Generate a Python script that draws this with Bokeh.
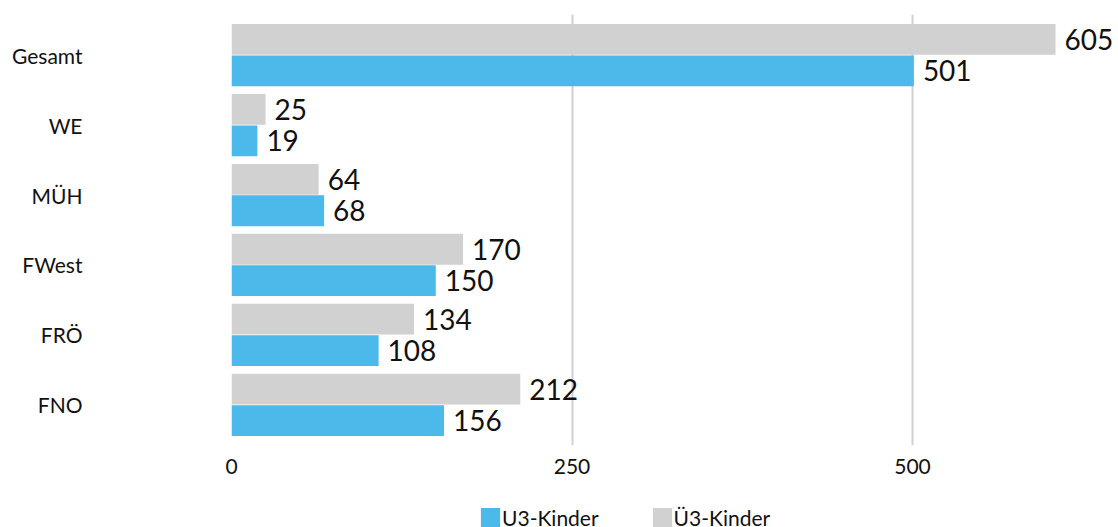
from bokeh.plotting import figure
from bokeh.layouts import column
from bokeh.models import (ColumnDataSource, FactorRange, Range1d, FixedTicker,
                          LabelSet, Legend, LegendItem)
from bokeh.core.properties import value
from bokeh.transform import dodge
from bokeh.embed import file_html
from bokeh.resources import INLINE

categories = ["Gesamt", "WE", "MÜH", "FWest", "FRÖ", "FNO"]
u3_kinder = [501, 19, 68, 150, 108, 156]
ue3_kinder = [605, 25, 64, 170, 134, 212]
x_ticks = [0, 250, 500]
series_names = ["U3-Kinder", "Ü3-Kinder"]

BLUE = "#4bb9ea"
GRAY = "#d0d1d0"
FONT = "Lato"
TXT = "#111111"

src = ColumnDataSource(data=dict(
    cat=categories,
    u3=u3_kinder,
    ue3=ue3_kinder,
    u3_txt=[str(v) for v in u3_kinder],
    ue3_txt=[str(v) for v in ue3_kinder],
))

p = figure(
    width=1118, height=483,
    y_range=FactorRange(factors=list(reversed(categories)),
                        range_padding=0.08, range_padding_units="absolute"),
    x_range=Range1d(0, 650.5),
    output_backend="svg", toolbar_location=None,
    min_border_left=231, min_border_right=1, min_border_top=14,
    min_border_bottom=38,
)
p.outline_line_color = None
p.background_fill_color = "white"
p.border_fill_color = "white"

r_ue3 = p.hbar(y=dodge("cat", 0.225, range=p.y_range), right="ue3", left=0,
               height=0.44, source=src, fill_color=GRAY, line_color=None)
r_u3 = p.hbar(y=dodge("cat", -0.225, range=p.y_range), right="u3", left=0,
              height=0.44, source=src, fill_color=BLUE, line_color=None)

for col, txt, off in (("ue3", "ue3_txt", 0.225), ("u3", "u3_txt", -0.225)):
    lbl = LabelSet(x=col, y=dodge("cat", off, range=p.y_range), text=txt,
                   source=src, x_offset=9, y_offset=0,
                   text_font=value(FONT), text_font_size="28px",
                   text_color=TXT,
                   text_baseline="middle", text_align="left")
    p.add_layout(lbl)

# axes
p.xaxis.ticker = FixedTicker(ticks=x_ticks)
p.xaxis.axis_line_color = None
p.xaxis.major_tick_line_color = None
p.xaxis.minor_tick_line_color = None
p.xaxis.major_tick_out = 0
p.xaxis.major_tick_in = 0
p.xaxis.major_label_standoff = 13
p.xaxis.major_label_text_font = FONT
p.xaxis.major_label_text_font_size = "21px"
p.xaxis.major_label_text_color = TXT

p.yaxis.axis_line_color = None
p.yaxis.major_tick_line_color = None
p.yaxis.major_tick_out = 0
p.yaxis.major_tick_in = 0
p.yaxis.major_label_standoff = 149
p.yaxis.major_label_text_font = FONT
p.yaxis.major_label_text_font_size = "21px"
p.yaxis.major_label_text_color = TXT

p.xgrid.grid_line_color = "#d0d0d0"
p.xgrid.grid_line_width = 2
p.ygrid.grid_line_color = None

# legend strip below the chart (its frame is aligned with the chart's frame)
lf = figure(width=1118, height=44, output_backend="svg", toolbar_location=None,
            x_axis_location=None, y_axis_location=None,
            min_border_left=0, min_border_right=0, min_border_top=0,
            min_border_bottom=0, x_range=Range1d(0, 1), y_range=Range1d(0, 1))
lf.grid.visible = False
lf.outline_line_color = None
lf.background_fill_color = "white"
lf.border_fill_color = "white"
# zero-width swatch renderers, only used to draw the legend keys
swatch = ColumnDataSource(data=dict(y=[0.5], left=[0], right=[0]))
lg_u3 = lf.hbar(y="y", left="left", right="right", height=0.5, source=swatch,
                fill_color=BLUE, line_color=None)
lg_ue3 = lf.hbar(y="y", left="left", right="right", height=0.5, source=swatch,
                 fill_color=GRAY, line_color=None)

legend = Legend(
    items=[LegendItem(label=series_names[0], renderers=[lg_u3]),
           LegendItem(label=series_names[1], renderers=[lg_ue3])],
    orientation="horizontal",
    location=(247, -3),
    glyph_width=24, glyph_height=25,
    label_standoff=0, spacing=51, padding=0, margin=0,
    border_line_color=None, background_fill_alpha=0,
    label_text_font=FONT, label_text_font_size="21px",
    label_text_color=TXT,
)
lf.add_layout(legend, "center")

layout = column(p, lf, spacing=0)
open("out.html", "w").write(file_html(layout, INLINE))
